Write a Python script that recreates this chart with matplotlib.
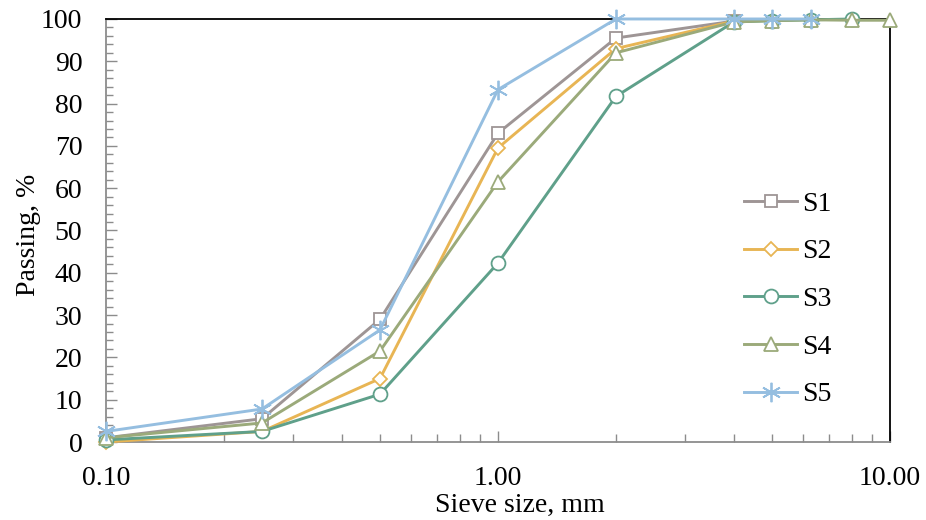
import matplotlib
matplotlib.use("Agg")
import matplotlib.pyplot as plt
from matplotlib.ticker import FixedLocator, LogLocator, NullFormatter, MultipleLocator

plt.rcParams['font.family'] = ['Liberation Serif', 'DejaVu Serif']

# Data (sieve sizes in mm, passing %)
s1_x = [0.1, 0.25, 0.5, 1.0, 2.0, 4.0]
s1_y = [1.0, 5.5, 29.0, 73.0, 95.5, 99.5]
s2_x = [0.1, 0.25, 0.5, 1.0, 2.0, 4.0]
s2_y = [0.0, 2.5, 15.0, 69.5, 93.0, 99.5]
s3_x = [0.1, 0.25, 0.5, 1.0, 2.0, 4.0, 5.0, 6.3, 8.0]
s3_y = [0.5, 2.5, 11.3, 42.3, 81.7, 99.3, 99.6, 99.8, 100.0]
s4_x = [0.1, 0.25, 0.5, 1.0, 2.0, 4.0, 5.0, 6.3, 8.0, 10.0]
s4_y = [1.0, 4.5, 21.5, 61.5, 92.0, 99.3, 99.6, 99.8, 99.7, 99.7]
s5_x = [0.1, 0.25, 0.5, 1.0, 2.0, 4.0, 5.0, 6.3]
s5_y = [2.5, 7.8, 26.5, 83.3, 100.0, 100.0, 100.0, 100.0]

labels = ['S1', 'S2', 'S3', 'S4', 'S5']
colors = ['#9E9595', '#E8B554', '#5FA08A', '#9BAA7A', '#95BEE0']
markers = ['s', 'D', 'o', '^', (6, 2, 0)]
msizes = [8.5, 7.5, 10, 10, 14]
series = [(s1_x, s1_y), (s2_x, s2_y), (s3_x, s3_y), (s4_x, s4_y), (s5_x, s5_y)]

x_ticks = [0.1, 1.0, 10.0]
x_ticklabels = ['0.10', '1.00', '10.00']
y_ticks = [0, 10, 20, 30, 40, 50, 60, 70, 80, 90, 100]

fig = plt.figure(figsize=(9.26, 5.2), dpi=100)
ax = fig.add_axes([0.1145, 0.15, 0.8465, 0.8135])

for (x, y), lab, c, m, ms in zip(series, labels, colors, markers, msizes):
    ax.plot(x, y, color=c, lw=2.1, marker=m, ms=ms,
            markerfacecolor='white', markeredgecolor=c, markeredgewidth=1.3,
            label=lab, clip_on=False, zorder=3)

ax.set_xscale('log')
ax.set_xlim(0.1, 10)
ax.set_ylim(0, 100)
ax.xaxis.set_major_locator(FixedLocator(x_ticks))
ax.set_xticklabels(x_ticklabels)
ax.xaxis.set_minor_locator(LogLocator(base=10, subs=range(2, 10)))
ax.xaxis.set_minor_formatter(NullFormatter())
ax.set_yticks(y_ticks)
ax.yaxis.set_minor_locator(MultipleLocator(2))

gray = '#8C8C8C'
for side in ['left', 'bottom']:
    ax.spines[side].set_color(gray)
    ax.spines[side].set_linewidth(1.3)
for side in ['top', 'right']:
    ax.spines[side].set_color('black')
    ax.spines[side].set_linewidth(1.3)

ax.tick_params(axis='both', which='both', direction='in', color=gray, width=1.0,
               labelsize=20, top=False, right=False)
ax.tick_params(axis='y', which='major', length=8, pad=17)
ax.tick_params(axis='y', which='minor', length=5)
ax.tick_params(axis='x', which='major', length=8, pad=17)
ax.tick_params(axis='x', which='minor', length=6)

ax.set_xlabel('Sieve size, mm', fontsize=20, labelpad=2, x=0.528)
ax.set_ylabel('Passing, %', fontsize=20, labelpad=0, y=0.489)

leg = ax.legend(loc='center left', bbox_to_anchor=(0.80, 0.337), frameon=False,
                fontsize=20, handlelength=1.9, handletextpad=0.2, labelspacing=0.8,
                borderaxespad=0)

fig.savefig('out.png', dpi=100)
